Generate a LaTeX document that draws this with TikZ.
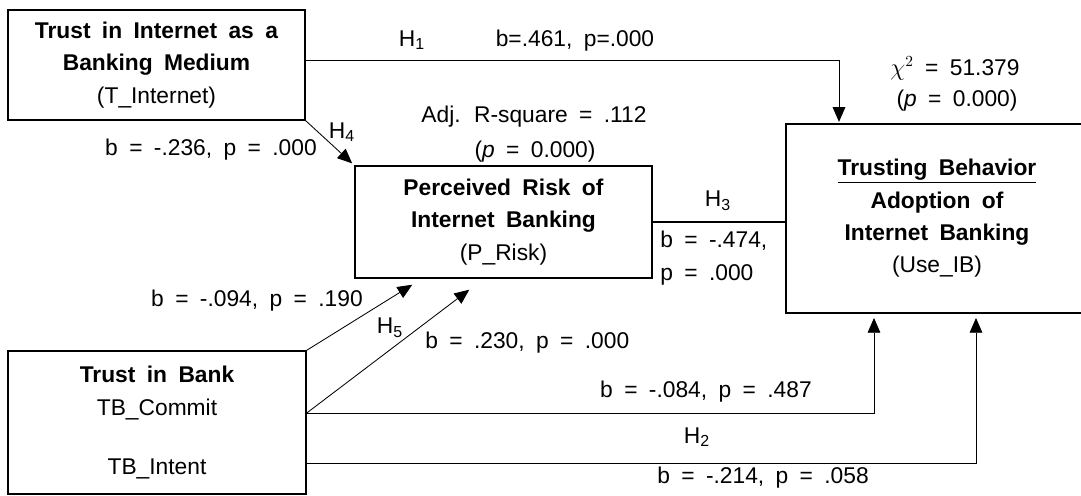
\documentclass[tikz,border=0pt]{standalone}
\usepackage{fontspec}
\setmainfont{Liberation Sans}[WordSpace=1.8]
\usetikzlibrary{arrows.meta}
\tikzset{
  box/.style={draw, line width=1pt, inner sep=0pt, align=center},
  arr/.style={-{Triangle[length=10.5pt,width=9pt]}, line width=0.6pt},
  lbl/.style={inner sep=0pt}
}
\begin{document}
\begin{tikzpicture}[x=0.025cm, y=-0.025cm, font=\fontsize{16.2}{23}\selectfont]
  \useasboundingbox (0,0) rectangle (1081,495);
  % boxes
  \node[box, minimum width=7.425cm, minimum height=2.75cm] (tint) at (156.5,65)
    {\textbf{Trust in Internet as a}\\\textbf{Banking Medium}\\(T\_Internet)};
  \node[box, minimum width=7.425cm, minimum height=2.8cm] (prisk) at (503.5,222)
    {\textbf{Perceived Risk of}\\\textbf{Internet Banking}\\(P\_Risk)};
  \node[box, minimum width=7.55cm, minimum height=4.725cm] (useib) at (937,218.5)
    {\textbf{\underline{Trusting Behavior}}\\\textbf{Adoption of}\\\textbf{Internet Banking}\\(Use\_IB)};
  \node[box, minimum width=7.45cm, minimum height=3.575cm] (tbank) at (157,422.5)
    {\textbf{Trust in Bank}\\TB\_Commit\\[19pt]TB\_Intent};
  % H1
  \coordinate (h1turn) at (839,60);
  \draw[arr, shorten >=1pt] (tint.east |- h1turn) -| (useib.north -| h1turn);
  \node[lbl] (h1) at (412,40) {H\textsubscript{1}};
  \node[lbl] (b1) at (575,41) {b=.461, p=.000};
  \node[lbl] (chi) at (955,68) {$\chi^2$ = 51.379};
  \node[lbl] (chip) at (957,101) {(\textit{p} = 0.000)};
  % H4
  \draw[arr, shorten >=2pt] (tint.south east) -- (prisk.north west);
  \node[lbl] (h4) at (342,132) {H\textsubscript{4}};
  \node[lbl, anchor=east] (b4) at (317,150) {b = -.236, p = .000};
  \node[lbl] (adjr) at (534,117) {Adj. R-square = .112};
  \node[lbl] (adjp) at (535,152) {(\textit{p} = 0.000)};
  % H3
  \draw[line width=0.8pt] (prisk.east) -- (prisk.east -| useib.west);
  \node[lbl] (h3) at (718,201) {H\textsubscript{3}};
  \node[lbl, anchor=west, align=left] (b3) at (660,258) {b = -.474,\\p = .000};
  % H5 and H2
  \coordinate (tbc) at (tbank.east |- 0,413);
  \coordinate (tbi) at (tbank.east |- 0,463);
  \draw[arr] (tbank.north east) -- ([shift={(58,6)}]prisk.south west);
  \draw[arr] (tbc) -- ([shift={(115,11)}]prisk.south west);
  \draw[arr, shorten >=3pt] (tbc) -| (useib.south -| 874,0);
  \draw[arr, shorten >=3pt] (tbi) -| (useib.south -| 976,0);
  \node[lbl, anchor=east] (b5a) at (363,301) {b = -.094, p = .190};
  \node[lbl] (h5) at (390,328) {H\textsubscript{5}};
  \node[lbl, anchor=west] (b5b) at (425,343) {b = .230, p = .000};
  \node[lbl, anchor=east] (b2a) at (812,392) {b = -.084, p = .487};
  \node[lbl] (h2) at (697,437) {H\textsubscript{2}};
  \node[lbl] (b2b) at (763,478) {b = -.214, p = .058};
\end{tikzpicture}
\end{document}
